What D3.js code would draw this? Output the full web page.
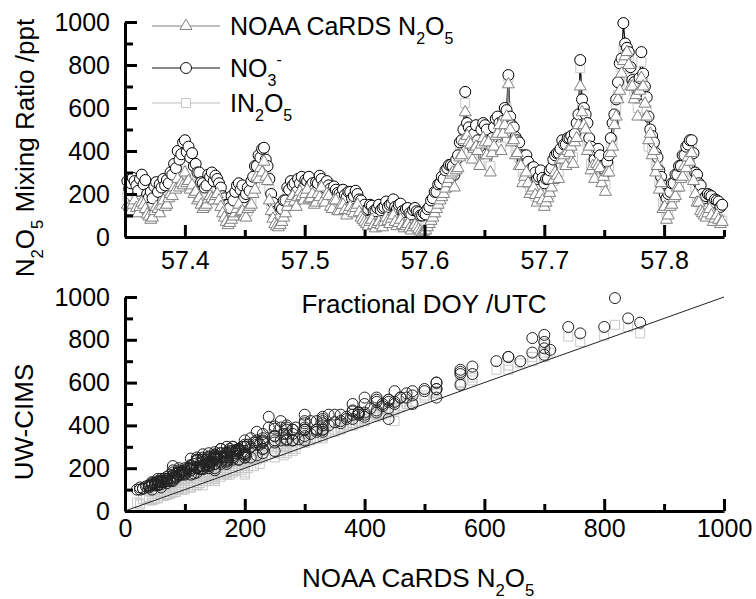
<!DOCTYPE html>
<html><head><meta charset="utf-8">
<script src="https://cdn.jsdelivr.net/npm/d3@7"></script>
<style>body{margin:0;background:#fff} text{font-family:"Liberation Sans",Arial,sans-serif;fill:#000}</style>
</head><body><svg id="c" width="756" height="599"></svg>
<script>
// Fractional day of year (UTC)
const doy = [
57.352,57.3535,57.355,57.3565,57.358,57.3595,57.361,57.3625,57.364,57.3655,57.367,57.3685,57.370,57.3715,57.373,57.3745,57.376,57.3775,57.379,57.3805,
57.382,57.3835,57.385,57.3865,57.388,57.3895,57.391,57.3925,57.394,57.3955,57.397,57.3985,57.400,57.4015,57.403,57.4045,57.406,57.4075,57.409,57.4105,
57.412,57.4135,57.415,57.4165,57.418,57.4195,57.421,57.4225,57.424,57.4255,57.427,57.4285,57.430,57.4315,57.433,57.4345,57.436,57.4375,57.439,57.4405,
57.442,57.4435,57.445,57.4465,57.448,57.4495,57.451,57.4525,57.454,57.4555,57.457,57.4585,57.460,57.4615,57.463,57.4645,57.466,57.4675,57.469,57.4705,
57.472,57.4735,57.475,57.4765,57.478,57.4795,57.481,57.4825,57.484,57.4855,57.487,57.4885,57.490,57.4915,57.493,57.4945,57.496,57.4975,57.499,57.5005,
57.502,57.5035,57.505,57.5065,57.508,57.5095,57.511,57.5125,57.514,57.5155,57.517,57.5185,57.520,57.5215,57.523,57.5245,57.526,57.5275,57.529,57.5305,
57.532,57.5335,57.535,57.5365,57.538,57.5395,57.541,57.5425,57.544,57.5455,57.547,57.5485,57.550,57.5515,57.553,57.5545,57.556,57.5575,57.559,57.5605,
57.562,57.5635,57.565,57.5665,57.568,57.5695,57.571,57.5725,57.574,57.5755,57.577,57.5785,57.580,57.5815,57.583,57.5845,57.586,57.5875,57.589,57.5905,
57.592,57.5935,57.595,57.5965,57.598,57.5995,57.601,57.6025,57.604,57.6055,57.607,57.6085,57.610,57.6115,57.613,57.6145,57.616,57.6175,57.619,57.6205,
57.622,57.6235,57.625,57.6265,57.628,57.6295,57.631,57.6325,57.634,57.6355,57.637,57.6385,57.640,57.6415,57.643,57.6445,57.646,57.6475,57.649,57.6505,
57.652,57.6535,57.655,57.6565,57.658,57.6595,57.661,57.6625,57.664,57.6655,57.667,57.6685,57.670,57.6715,57.673,57.6745,57.676,57.6775,57.679,57.6805,
57.682,57.6835,57.685,57.6865,57.688,57.6895,57.691,57.6925,57.694,57.6955,57.697,57.6985,57.700,57.7015,57.703,57.7045,57.706,57.7075,57.709,57.7105,
57.712,57.7135,57.715,57.7165,57.718,57.7195,57.721,57.7225,57.724,57.7255,57.727,57.7285,57.730,57.7315,57.733,57.7345,57.736,57.7375,57.739,57.7405,
57.742,57.7435,57.745,57.7465,57.748,57.7495,57.751,57.7525,57.754,57.7555,57.757,57.7585,57.760,57.7615,57.763,57.7645,57.766,57.7675,57.769,57.7705,
57.772,57.7735,57.775,57.7765,57.778,57.7795,57.781,57.7825,57.784,57.7855,57.787,57.7885,57.790,57.7915,57.793,57.7945,57.796,57.7975,57.799,57.8005,
57.802,57.8035,57.805,57.8065,57.808,57.8095,57.811,57.8125,57.814,57.8155,57.817,57.8185,57.820,57.8215,57.823,57.8245,57.826,57.8275,57.829,57.8305,
57.832,57.8335,57.835,57.8365,57.838,57.8395,57.841,57.8425,57.844,57.8455,57.847,57.8485];
// NOAA CaRDS N2O5 (ppt)
const noaa = [
150,140,120,150,170,135,110,140,160,150,130,105,95,80,90,120,140,130,110,145,
170,140,150,180,200,190,230,220,270,230,250,240,300,250,260,220,240,200,210,170,
180,150,130,140,150,175,190,180,170,190,200,170,140,110,90,70,55,65,80,95,
110,130,150,115,120,95,90,130,140,150,200,220,280,270,320,300,350,280,260,170,
120,85,60,50,45,55,70,90,110,140,160,180,190,165,140,185,210,190,170,200,
220,175,180,200,150,160,200,185,230,170,160,200,190,140,130,170,170,120,120,150,
150,125,100,125,140,120,110,135,150,115,90,80,70,60,50,70,80,55,40,60,
70,55,45,70,90,75,60,85,100,70,50,65,80,55,40,50,60,40,30,45,
55,45,35,25,20,25,30,45,60,75,90,110,130,150,170,185,200,225,250,270,
290,300,230,310,320,370,380,450,580,470,440,430,360,410,420,400,330,430,460,440,
380,440,300,390,420,470,480,520,400,480,520,560,710,500,440,450,380,390,330,330,
250,280,300,250,200,215,230,195,160,180,200,170,140,160,180,205,230,265,300,285,
270,360,360,380,330,400,390,420,340,440,460,520,700,580,520,500,400,420,310,330,
270,340,330,320,250,280,210,300,300,390,420,520,560,640,680,760,818,840,860,800,
700,700,640,660,560,680,740,700,620,560,450,480,380,400,300,330,220,250,130,140,
80,100,140,150,180,190,230,230,270,280,330,320,370,350,390,260,200,160,160,120,
110,100,90,110,130,100,70,85,100,80,60,70];
// UW-CIMS NO3- (ppt)
const no3 = [
260,225,250,275,260,240,215,270,290,245,265,200,185,210,180,235,255,210,245,230,
270,240,265,250,300,290,340,320,400,360,385,440,450,395,420,370,390,330,340,300,
300,255,250,230,240,290,280,300,260,285,270,250,230,190,180,150,150,135,190,170,
210,240,250,220,240,185,200,230,215,260,280,330,330,380,370,410,415,360,330,270,
200,160,110,120,100,140,130,170,170,230,220,260,240,250,210,270,250,280,230,265,
260,280,240,250,220,255,250,285,270,240,230,260,240,225,200,235,220,205,200,190,
220,195,185,210,210,180,190,215,200,175,170,140,150,125,130,150,145,120,120,135,
150,125,135,140,165,140,150,155,175,140,130,150,155,120,115,130,135,110,105,125,
135,120,115,100,100,110,105,130,140,170,180,210,210,245,250,280,270,310,320,335,
335,330,290,360,380,440,450,500,675,530,510,490,420,480,520,450,420,500,530,520,
500,430,420,460,510,550,560,530,500,540,600,590,753,560,520,510,465,450,440,380,
350,380,380,350,300,320,325,300,270,280,310,275,250,270,270,310,320,360,380,390,
390,410,450,430,430,460,460,470,450,480,530,570,823,640,600,570,530,460,420,400,
360,400,410,380,330,330,300,350,380,460,530,570,640,720,808,830,995,900,880,860,
790,730,720,700,660,740,860,760,700,650,560,500,470,440,390,370,310,280,240,200,
180,200,210,250,250,290,290,330,330,380,380,420,430,450,450,390,300,290,250,240,
200,180,190,200,195,190,160,175,170,165,140,150];
// UW-CIMS IN2O5 (ppt)
const in2o5 = [
190,150,190,140,210,200,120,150,230,140,170,160,100,110,150,120,180,140,170,150,
210,230,150,240,200,230,290,250,320,260,280,300,330,350,270,280,300,220,240,260,
250,160,180,140,200,170,240,190,180,260,210,180,170,140,100,110,80,70,120,100,
140,200,150,170,130,150,110,120,190,170,260,250,310,300,370,340,380,320,280,220,
150,100,90,60,70,60,110,100,130,200,170,190,250,170,180,190,260,200,190,230,
240,210,230,170,160,240,210,220,280,200,190,180,250,160,140,210,180,150,170,140,
190,130,140,130,180,120,150,140,160,150,100,110,90,70,80,75,110,70,60,70,
100,60,80,75,110,80,90,90,130,75,70,70,100,60,65,55,80,50,55,50,
80,55,60,35,40,30,55,50,90,80,130,110,160,150,210,190,230,220,300,270,
330,320,290,330,370,400,430,470,623,500,470,450,390,440,450,420,340,460,490,470,
400,460,330,410,460,500,510,560,420,510,560,600,740,540,480,480,410,420,370,360,
300,280,340,250,230,210,270,190,200,180,240,170,180,160,210,200,270,260,340,290,
300,380,390,400,350,430,420,450,370,470,490,550,785,610,560,530,430,440,340,350,
300,370,360,340,280,300,240,320,330,420,450,550,600,660,720,790,870,860,830,820,
740,720,680,690,600,700,815,720,660,590,420,500,410,420,330,350,250,270,160,170,
110,120,170,160,210,200,260,250,300,290,360,340,400,370,420,300,230,180,190,140,
140,110,120,110,150,100,100,90,120,85,80,75];

const concTicks = [0,200,400,600,800,1000];
const concMinor = [100,300,500,700,900];
const doyTicks = [57.4,57.5,57.6,57.7,57.8];
const doyMinor = [57.45,57.55,57.65,57.75,57.85];
const oneToOne = [0,1000];

const svg = d3.select("#c");
const xT = d3.scaleLinear().domain([57.35,57.85]).range([125,724]);
const yT = d3.scaleLinear().domain([0,1000]).range([237,22]);
const xS = d3.scaleLinear().domain([0,1000]).range([125,724]);
const yS = d3.scaleLinear().domain([0,1000]).range([511,297]);

const FS = 25;
function styleAxis(g){
  g.select(".domain").attr("stroke","#000").attr("stroke-width",3).style("stroke","#000").style("stroke-width","3px");
  g.selectAll(".tick line").attr("stroke","#000").attr("stroke-width",3).style("stroke","#000").style("stroke-width","3px");
  g.selectAll(".tick text").attr("font-size",FS).attr("font-family",'"Liberation Sans",Arial,sans-serif').style("fill","#000");
}
function drawAxes(x, y, yAxisY, xTicks, xMinor, xPad, fmt){
  svg.append("g").attr("transform",`translate(0,${yAxisY})`)
    .call(d3.axisBottom(x).tickValues(xMinor).tickSize(-7).tickSizeOuter(0).tickFormat(""))
    .call(g=>g.select(".domain").remove()).call(styleAxis);
  svg.append("g").attr("transform",`translate(125,0)`)
    .call(d3.axisLeft(y).tickValues(concMinor).tickSize(-8).tickSizeOuter(0).tickFormat(""))
    .call(g=>g.select(".domain").remove()).call(styleAxis);
  svg.append("g").attr("transform",`translate(0,${yAxisY})`)
    .call(d3.axisBottom(x).tickValues(xTicks).tickSize(-12).tickSizeOuter(0).tickPadding(xPad).tickFormat(fmt))
    .call(styleAxis);
  svg.append("g").attr("transform",`translate(125,0)`)
    .call(d3.axisLeft(y).tickValues(concTicks).tickSize(-12).tickSizeOuter(0).tickPadding(15).tickFormat(d3.format("d")))
    .call(styleAxis);
}

// ---------- top panel ----------
const idx = d3.range(doy.length);
const triPath = d3.symbol(d3.symbolTriangle, 62)();
const sqPath = d3.symbol(d3.symbolSquare, 81)();
const series = [
  {v:in2o5, stroke:"#c8c8c8", line:"#c0c0c0", shape:"sq"},
  {v:no3, stroke:"#000", line:"#111", shape:"ci"},
  {v:noaa, stroke:"#808080", line:"#808080", shape:"tri"}
];
const topG = svg.append("g");
series.forEach(s=>{
  const line = d3.line().x(i=>xT(doy[i])).y(i=>yT(s.v[i]));
  topG.append("path").attr("d",line(idx)).attr("fill","none").attr("stroke",s.line).attr("stroke-width",1.2);
});
series.forEach(s=>{
  const g = topG.append("g");
  idx.forEach(i=>{
    const px = xT(doy[i]), py = yT(s.v[i]);
    if(s.shape==="ci") g.append("circle").attr("cx",px).attr("cy",py).attr("r",5.5).attr("fill","#fff").attr("stroke",s.stroke).attr("stroke-width",1);
    else g.append("path").attr("d", s.shape==="tri"?triPath:sqPath).attr("transform",`translate(${px},${py})`).attr("fill","#fff").attr("stroke",s.stroke).attr("stroke-width",1);
  });
});
drawAxes(xT, yT, 237, doyTicks, doyMinor, 14, d3.format(".1f"));

// ---------- bottom panel ----------
const botG = svg.append("g");
idx.forEach(i=>{
  botG.append("path").attr("d",sqPath).attr("transform",`translate(${xS(noaa[i])},${yS(in2o5[i])})`).attr("fill","none").attr("stroke","#c8c8c8").attr("stroke-width",1);
});
idx.forEach(i=>{
  botG.append("circle").attr("cx",xS(noaa[i])).attr("cy",yS(no3[i])).attr("r",5.5).attr("fill","none").attr("stroke","#222").attr("stroke-width",1);
});
botG.append("line").attr("x1",xS(oneToOne[0])).attr("y1",yS(oneToOne[0])).attr("x2",xS(oneToOne[1])).attr("y2",yS(oneToOne[1])).attr("stroke","#222").attr("stroke-width",1);
drawAxes(xS, yS, 511, concTicks, concMinor, 8, d3.format("d"));

// ---------- titles ----------
function sub(t, parts, fs){
  parts.forEach(p=>{
    const ts = t.append("tspan").text(p[0]);
    if(p[1]==="sub") ts.attr("font-size",fs*0.64).attr("dy",fs*0.36);
    else if(p[1]==="up") ts.attr("dy",-fs*0.36);
  });
}
const TF = 26;
const yt1 = svg.append("text").attr("transform","translate(34,148) rotate(-90)").attr("text-anchor","middle").attr("font-size",TF);
sub(yt1,[["N"],["2","sub"],["O","up"],["5","sub"],[" Mixing Ratio /ppt","up"]],TF);
svg.append("text").attr("transform","translate(33,422) rotate(-90)").attr("text-anchor","middle").attr("font-size",TF).text("UW-CIMS");
svg.append("text").attr("x",424).attr("y",313).attr("text-anchor","middle").attr("font-size",TF).text("Fractional DOY /UTC");
const xt2 = svg.append("text").attr("x",302).attr("y",587).attr("font-size",TF);
sub(xt2,[["NOAA CaRDS N"],["2","sub"],["O","up"],["5","sub"]],TF);

// ---------- legend ----------
const LF = 25;
const legendRows = [
  {y:26, stroke:"#808080", shape:"tri", parts:[["NOAA CaRDS N"],["2","sub"],["O","up"],["5","sub"]]},
  {y:68, stroke:"#111", shape:"ci", parts:[["NO"],["3","sub"],["-","supx"]]},
  {y:103, stroke:"#c0c0c0", shape:"sq", parts:[["IN"],["2","sub"],["O","up"],["5","sub"]]}
];
legendRows.forEach(r=>{
  svg.append("line").attr("x1",152).attr("x2",220).attr("y1",r.y).attr("y2",r.y).attr("stroke",r.stroke).attr("stroke-width",1.2);
  if(r.shape==="ci") svg.append("circle").attr("cx",186).attr("cy",r.y).attr("r",5.5).attr("fill","#fff").attr("stroke",r.stroke);
  else svg.append("path").attr("d",r.shape==="tri"?triPath:sqPath).attr("transform",`translate(186,${r.y})`).attr("fill","#fff").attr("stroke",r.shape==="sq"?"#c8c8c8":r.stroke);
  const t = svg.append("text").attr("x",230).attr("y",r.y+9).attr("font-size",LF);
  r.parts.forEach(p=>{
    const ts = t.append("tspan").text(p[0]);
    if(p[1]==="sub") ts.attr("font-size",LF*0.64).attr("dy",LF*0.36);
    else if(p[1]==="up") ts.attr("dy",-LF*0.36);
    else if(p[1]==="supx") ts.attr("font-size",LF*0.64).attr("dy",-LF*0.36-LF*0.5);
  });
});
if(doy.length!==noaa.length||doy.length!==no3.length||doy.length!==in2o5.length) console.error("length mismatch",doy.length,noaa.length,no3.length,in2o5.length);
</script></body></html>
